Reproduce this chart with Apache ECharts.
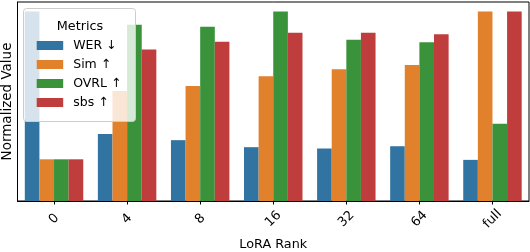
<!DOCTYPE html>
<html>
<head>
<meta charset="utf-8">
<script src="https://cdn.jsdelivr.net/npm/echarts@6/dist/echarts.min.js"></script>
<style>html,body{margin:0;padding:0;background:#fff}#c{width:530px;height:252px}</style>
</head>
<body>
<div id="c"></div>
<script>
const categories = ['0', '4', '8', '16', '32', '64', 'full'];
const seriesNames = ['WER ↓', 'Sim ↑', 'OVRL ↑', 'sbs ↑'];
const werValues  = [1.0, 0.354, 0.321, 0.284, 0.277, 0.289, 0.217];
const simValues  = [0.22, 0.58, 0.607, 0.658, 0.695, 0.717, 1.0];
const ovrlValues = [0.22, 0.93, 0.919, 1.0, 0.851, 0.837, 0.407];
const sbsValues  = [0.22, 0.80, 0.84, 0.888, 0.888, 0.88, 1.0];
const colors = ['#3274A1', '#E1812C', '#3A923A', '#C03D3E'];

const FONT = 'DejaVu Sans';
const chart = echarts.init(document.getElementById('c'), null, {renderer: 'canvas'});
const allValues = [werValues, simValues, ovrlValues, sbsValues];
chart.setOption({
  animation: false,
  color: colors,
  textStyle: {fontFamily: FONT},
  grid: {left: 17.5, right: 1, top: 2, bottom: 51, show: true, borderColor: '#000', borderWidth: 1, containLabel: false, outerBoundsMode: 'none'},
  xAxis: {
    type: 'category',
    data: categories,
    name: 'LoRA Rank',
    nameLocation: 'middle',
    nameGap: 35,
    nameTextStyle: {fontFamily: FONT, fontSize: 12.8, color: '#000'},
    axisLine: {show: true, lineStyle: {color: '#000', width: 1}},
    axisTick: {show: true, alignWithLabel: true, length: 3.5, lineStyle: {color: '#000'}},
    axisLabel: {rotate: 45, align: 'center', verticalAlign: 'middle', margin: 18, fontFamily: FONT, fontSize: 13, color: '#000'},
    splitLine: {show: false}
  },
  yAxis: {
    type: 'value',
    min: 0, max: 1.05,
    name: 'Normalized Value',
    nameLocation: 'middle',
    nameGap: 3,
    nameTextStyle: {fontFamily: FONT, fontSize: 13.5, color: '#000'},
    axisLine: {show: true, lineStyle: {color: '#000', width: 1}},
    axisTick: {show: false},
    axisLabel: {show: false},
    splitLine: {show: false}
  },
  legend: {
    orient: 'vertical',
    left: 36.7, top: 38,
    padding: 0,
    itemWidth: 26.5, itemHeight: 9, itemGap: 4,
    icon: 'rect',
    z: 30,
    formatter: function (name) { return '{t|' + name + '}'; },
    textStyle: {fontFamily: FONT, fontSize: 12.5, lineHeight: 15, color: '#000',
      rich: {t: {fontFamily: FONT, fontSize: 12.5, lineHeight: 15, color: '#000', padding: [0, 0, 0, 5]}}},
    data: seriesNames
  },
  graphic: [
    {type: 'rect', z: 20, shape: {x: 23.5, y: 8.5, width: 112, height: 113, r: 3},
     style: {fill: 'rgba(255,255,255,0.8)', stroke: '#cccccc', lineWidth: 1}},
    {type: 'text', z: 25, style: {x: 80, y: 27, text: 'Metrics', fill: '#000', font: '12.8px "DejaVu Sans"', textAlign: 'center', textVerticalAlign: 'middle'}}
  ],
  series: seriesNames.map((n, i) => ({
    name: n,
    type: 'bar',
    data: allValues[i],
    barCategoryGap: '20%',
    barGap: '0%',
    itemStyle: {color: colors[i]}
  }))
});
</script>
</body>
</html>
